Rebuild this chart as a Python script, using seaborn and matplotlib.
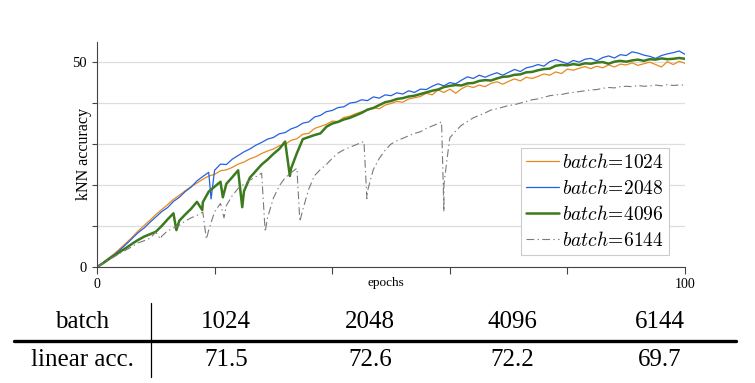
import numpy as np
import pandas as pd
import matplotlib
matplotlib.use("Agg")
import matplotlib.pyplot as plt
import seaborn as sns
from matplotlib.lines import Line2D

# ---------------- data ----------------
epochs = list(range(101))

acc_1024 = [0.0, 1.0, 2.2, 3.3, 4.6, 5.9, 7.3, 8.8, 10.1, 11.4,
            12.8, 14.0, 15.2, 16.5, 17.5, 18.6, 19.6, 20.5, 21.4, 22.2,
            22.6, 23.5, 23.7, 24.3, 25.1, 25.6, 26.4, 26.9, 27.7, 28.3,
            28.8, 29.6, 29.9, 30.9, 31.3, 32.4, 32.6, 33.8, 34.3, 34.8,
            35.6, 35.5, 36.5, 36.8, 37.4, 37.9, 38.2, 38.9, 38.6, 39.5,
            39.9, 40.4, 40.2, 41.0, 41.3, 41.6, 42.4, 42.0, 43.2, 42.6,
            43.4, 42.4, 43.5, 44.2, 43.8, 44.4, 44.0, 44.8, 45.2, 44.6,
            45.3, 45.9, 45.4, 46.3, 46.0, 46.5, 47.1, 46.8, 47.6, 47.2,
            48.3, 48.0, 48.5, 48.9, 48.4, 49.0, 48.6, 49.3, 48.8, 49.5,
            49.3, 49.8, 49.2, 49.6, 50.0, 49.4, 48.8, 50.1, 49.4, 50.2,
            49.7]

acc_2048 = [0.0, 1.0, 2.1, 3.1, 4.3, 5.6, 7.0, 8.4, 9.5, 10.9,
            12.2, 13.5, 14.5, 16.0, 17.0, 18.4, 19.5, 21.0, 22.1, 23.1,
            23.6, 25.1, 25.0, 26.3, 27.2, 28.1, 28.8, 29.7, 30.4, 31.2,
            31.6, 32.5, 32.8, 33.7, 34.2, 35.1, 35.4, 36.6, 37.0, 37.9,
            38.2, 38.9, 39.1, 40.0, 40.2, 40.8, 40.6, 41.5, 41.2, 42.0,
            41.8, 42.5, 42.2, 43.0, 42.6, 43.4, 43.3, 44.1, 44.7, 44.2,
            45.0, 44.7, 45.6, 46.4, 46.0, 46.8, 46.3, 46.9, 47.4, 46.8,
            47.5, 48.2, 47.7, 48.6, 48.9, 49.4, 49.0, 50.1, 50.6, 50.1,
            49.6, 50.4, 50.0, 50.7, 50.9, 50.3, 51.1, 51.5, 51.0, 51.8,
            51.6, 52.5, 52.2, 51.7, 51.4, 50.9, 51.6, 52.0, 52.3, 52.7,
            51.9]

acc_4096 = [0.0, 0.9, 1.9, 2.8, 3.8, 4.7, 5.7, 6.6, 7.4, 8.0,
            8.6, 10.0, 11.6, 13.1, 11.3, 12.8, 14.2, 15.9, 15.8, 18.4,
            19.6, 20.8, 20.3, 21.9, 23.6, 18.5, 21.8, 23.4, 25.0, 26.2,
            27.6, 28.8, 30.6, 24.0, 27.8, 31.2, 31.7, 32.2, 32.6, 34.2,
            35.0, 35.4, 36.0, 36.4, 37.0, 37.6, 38.4, 38.8, 39.5, 40.2,
            40.5, 41.0, 41.2, 41.6, 41.8, 42.2, 42.6, 43.0, 43.3, 43.9,
            44.2, 44.4, 44.3, 44.8, 44.9, 45.4, 45.6, 45.5, 46.0, 46.4,
            46.5, 46.9, 47.0, 47.5, 47.6, 48.0, 48.3, 48.4, 49.1, 49.3,
            49.2, 49.5, 49.3, 49.7, 49.6, 49.9, 50.0, 49.6, 50.1, 50.3,
            50.1, 50.4, 50.6, 50.3, 50.7, 50.6, 50.9, 50.7, 50.8, 51.0,
            50.8]

acc_6144 = [0.0, 0.9, 1.8, 2.6, 3.4, 4.2, 5.0, 5.9, 6.4, 7.0,
            8.5, 7.5, 8.8, 9.5, 10.2, 11.2, 12.0, 12.6, 13.4, 9.0,
            13.5, 15.5, 15.0, 17.4, 19.2, 20.2, 21.2, 22.0, 22.9, 12.0,
            16.8, 19.8, 21.8, 23.0, 24.1, 14.0, 19.0, 22.3, 23.8, 25.0,
            26.5, 27.8, 28.6, 29.2, 29.8, 30.4, 18.5, 23.8, 26.5, 28.5,
            30.0, 30.8, 31.4, 32.0, 32.6, 33.0, 33.8, 34.4, 35.0, 20.0,
            31.5, 33.2, 34.6, 35.5, 36.4, 37.0, 37.6, 38.3, 38.6, 39.0,
            39.4, 39.6, 40.0, 40.4, 40.8, 41.0, 41.4, 41.8, 42.0, 42.1,
            42.4, 42.6, 42.8, 43.0, 43.2, 43.3, 43.6, 43.8, 43.7, 44.0,
            44.1, 44.0, 44.3, 44.1, 44.2, 44.4, 44.2, 44.5, 44.3, 44.4,
            44.4]

# extra evaluations between epochs (the sudden collapses)
dip_epochs_2048 = [19.4]
dip_acc_2048 = [16.6]
dip_epochs_4096 = [13.5, 17.9, 21.4, 24.7, 32.8]
dip_acc_4096 = [9.0, 13.9, 17.0, 14.6, 22.2]
dip_epochs_6144 = [10.8, 18.6, 21.6, 28.6, 34.5, 45.4, 45.9, 46.5, 58.6, 59.0, 59.5]
dip_acc_6144 = [6.8, 6.8, 12.0, 8.6, 11.1, 30.6, 16.7, 21.2, 35.4, 13.5, 26.0]

batch_sizes = [1024, 2048, 4096, 6144]
linear_acc = [71.5, 72.6, 72.2, 69.7]

# ---------------- build frame ----------------
def series(batch, acc, dip_e=(), dip_a=()):
    d = pd.DataFrame({"epoch": list(epochs) + list(dip_e),
                      "acc": list(acc) + list(dip_a)})
    d["batch"] = batch
    return d.sort_values("epoch")

df = pd.concat([
    series(1024, acc_1024),
    series(2048, acc_2048, dip_epochs_2048, dip_acc_2048),
    series(4096, acc_4096, dip_epochs_4096, dip_acc_4096),
    series(6144, acc_6144, dip_epochs_6144, dip_acc_6144),
], ignore_index=True)

# ---------------- style ----------------
sns.set_theme(style="ticks")
plt.rcParams["font.family"] = ["Liberation Serif", "DejaVu Serif"]
plt.rcParams["mathtext.fontset"] = "cm"
for k in ["text.color", "axes.labelcolor", "xtick.labelcolor", "ytick.labelcolor"]:
    plt.rcParams[k] = "black"

styles = {
    1024: dict(color="#E8891E", linewidth=0.9, linestyle="-"),
    2048: dict(color="#2460E0", linewidth=0.9, linestyle="-"),
    4096: dict(color="#3C7A1E", linewidth=1.8, linestyle="-"),
    6144: dict(color="#7A7A7A", linewidth=0.8, linestyle=(0, (7, 3, 1.2, 3))),
}

W, H = 755, 383
fig = plt.figure(figsize=(W / 100, H / 100), dpi=100)
ax = fig.add_axes([97 / W, 1 - 267 / H, 588 / W, 225 / H])

for b in batch_sizes:
    sub = df[df["batch"] == b]
    sns.lineplot(data=sub, x="epoch", y="acc", ax=ax, estimator=None,
                 sort=True, label=rf"$batch\!=\!{b}$", **styles[b])

ax.set_xlim(0, 100)
ax.set_ylim(0, 54.9)
ax.set_xticks([0, 20, 40, 60, 80, 100])
ax.set_xticklabels(["0", "", "", "", "", "100"])
ax.set_yticks([0, 10, 20, 30, 40, 50])
ax.set_yticklabels(["0", "", "", "", "", "50"])
ax.yaxis.grid(True, color="#dedede", linewidth=0.9)
ax.xaxis.grid(False)
ax.set_axisbelow(True)
for s in ["top", "right"]:
    ax.spines[s].set_visible(False)
for s in ["left", "bottom"]:
    ax.spines[s].set_color("#444444")
    ax.spines[s].set_linewidth(0.8)
ax.tick_params(axis="x", bottom=True, direction="out", length=5, width=0.8,
               color="#444444", labelcolor="black", labelsize=10, pad=3)
ax.tick_params(axis="y", left=True, direction="out", length=3.6, width=0.8,
               color="#444444", labelcolor="black", labelsize=10.5, pad=3.5)

ax.set_xlabel("epochs", fontsize=9.5, color="black")
ax.xaxis.set_label_coords(0.4915, -0.045)
ax.set_ylabel("kNN accuracy", fontsize=11.5, color="black")
ax.yaxis.set_label_coords(-0.008, 0.5)

leg = ax.legend(loc="lower right", bbox_to_anchor=(0.973, 0.053),
                borderaxespad=0, fontsize=14, frameon=True, fancybox=False,
                framealpha=1, edgecolor="#cccccc", handlelength=1.7,
                handletextpad=0.2, labelspacing=0.36, borderpad=0.25)
leg.get_frame().set_linewidth(0.8)
for t in leg.get_texts():
    t.set_color("black")

# ---------------- table below ----------------
row1_y = 1 - 321.5 / H
row2_y = 1 - 360 / H
label_x = 82 / W
col_x = [226 / W, 370 / W, 512 / W, 660 / W]
tfs = 18

fig.text(label_x, row1_y, "batch", ha="center", va="center", fontsize=tfs, color="black")
fig.text(label_x, row2_y, "linear acc.", ha="center", va="center", fontsize=tfs, color="black")
for x, b, a in zip(col_x, batch_sizes, linear_acc):
    fig.text(x, row1_y, f"{b}", ha="center", va="center", fontsize=tfs, color="black")
    fig.text(x, row2_y, f"{a:.1f}", ha="center", va="center", fontsize=tfs, color="black")

fig.add_artist(Line2D([14 / W, 736 / W], [1 - 341 / H, 1 - 341 / H],
                      color="black", linewidth=2.4, transform=fig.transFigure))
fig.add_artist(Line2D([151 / W, 151 / W], [1 - 303 / H, 1 - 377 / H],
                      color="black", linewidth=0.9, transform=fig.transFigure))

fig.savefig("out.png", dpi=100)
